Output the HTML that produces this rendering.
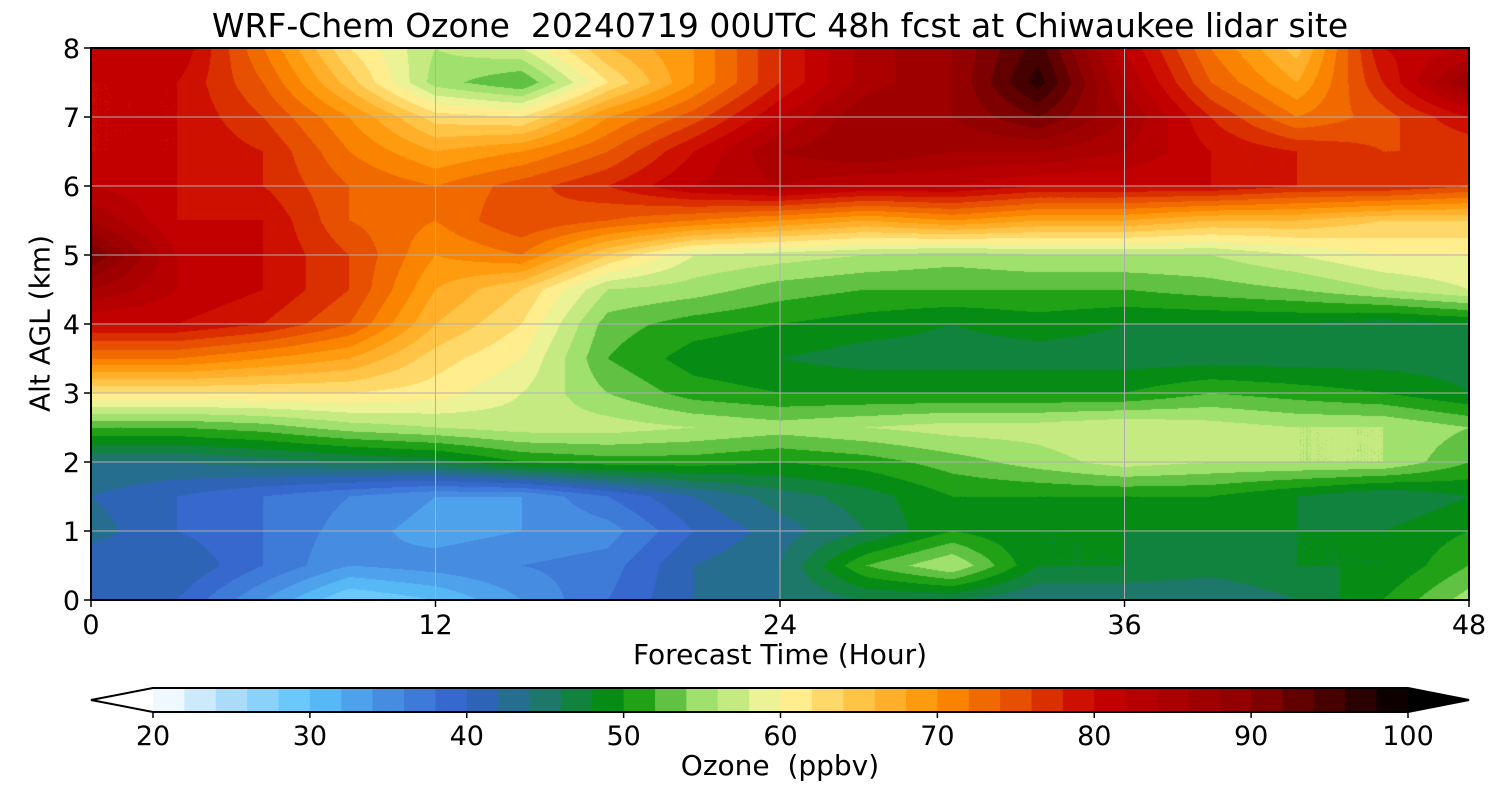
<!DOCTYPE html>
<html><head><meta charset="utf-8">
<style>
body{margin:0;background:#fff;}
#wrap{position:relative;width:1500px;height:800px;font-family:"DejaVu Sans","Liberation Sans",sans-serif;color:#000;overflow:hidden;}
.t{position:absolute;white-space:nowrap;}
svg text{font-family:"DejaVu Sans","Liberation Sans",sans-serif;}
</style></head>
<body>
<div id="wrap">
<div class="t" style="left:0;width:1560px;text-align:center;top:6px;font-size:33px;">WRF-Chem Ozone&nbsp; 20240719 00UTC 48h fcst at Chiwaukee lidar site</div>
<canvas id="hm" width="1378" height="552" style="position:absolute;left:91px;top:48px;"></canvas>
<svg id="ov" width="1500" height="800" style="position:absolute;left:0;top:0;"></svg>
<div class="t" style="left:91px;width:1378px;text-align:center;top:638px;font-size:28px;">Forecast Time (Hour)</div>
<div class="t" style="left:-60px;top:307px;width:200px;text-align:center;font-size:28px;transform:rotate(-90deg);">Alt AGL (km)</div>
<div class="t" style="left:91px;width:1378px;text-align:center;top:749px;font-size:28px;">Ozone&nbsp; (ppbv)</div>
</div>
<script>
const times=[0,3,6,9,12,15,18,21,24,27,30,33,36,39,42,45,48];
const alts=[0,0.5,1,1.5,2,2.5,3,3.5,4,4.5,5,5.5,6,6.5,7,7.5,8];
const ozone=[
[40,40,34,28,30,34,38,42,44,46,46,44,44,44,46,50,55],
[40,42,38,34,35,36,37,42,44,52,56,48,48,47,48,48,52],
[43,40,38,35,33,34,35,40,43,46,50,48,48,48,48,48,50],
[42,40,38,36,34,34,38,42,45,47,50,50,50,50,48,46,48],
[44,44,45,46,47,50,51,51,50,51,53,55,57,56,56,56,52],
[52,52,53,55,56,57,57,56,55,56,57,57,58,57,56,56,54],
[62,62,62,62,61,58,54,51,50,50,50,50,50,52,51,50,48],
[72,72,70,68,63,60,52,49,48,47,47,47,47,47,47,47,47],
[80,80,78,74,66,62,53,51,50,49,48,49,48,48,48,47,48],
[86,82,80,76,68,64,56,55,53,52,52,52,52,53,54,56,58],
[92,82,80,76,70,72,64,58,57,56,55,56,56,56,58,60,60],
[86,80,80,74,72,76,74,72,70,68,70,68,68,66,66,64,64],
[82,80,78,74,72,75,78,82,84,82,82,80,80,80,78,78,76],
[80,80,78,72,68,70,74,80,86,88,86,86,84,80,78,76,76],
[80,80,76,70,63,62,70,75,82,88,88,92,86,78,72,75,80],
[80,80,74,65,55,52,62,70,78,85,88,97,84,74,68,78,88],
[80,82,72,62,56,58,66,70,78,85,88,95,82,72,65,80,82]
];
const xTicks=[0,12,24,36,48];
const yTicks=[0,1,2,3,4,5,6,7,8];
const cbTicks=[20,30,40,50,60,70,80,90,100];
const cmapV=[20,25,30,35,40,45,50,55,60,65,70,75,80,90,100];
const cmapC=[[255,255,255],[170,220,250],[90,195,250],[70,140,225],[50,95,200],[30,120,105],[0,145,0],[160,225,110],[255,248,160],[255,195,70],[255,145,0],[230,80,0],[200,0,0],[140,0,0],[0,0,0]];
const X0=91,X1=1469,Y0=600,Y1=48,CB0=153,CB1=1408;
const xs=t=>X0+(t/48)*(X1-X0), ys=a=>Y0-(a/8)*(Y0-Y1), cbx=v=>CB0+(v-20)/80*(CB1-CB0);
function col(v){v=Math.max(20,Math.min(100,v));for(let i=0;i<cmapV.length-1;i++){if(v<=cmapV[i+1]){const f=(v-cmapV[i])/(cmapV[i+1]-cmapV[i]);return cmapC[i].map((c,k)=>Math.round(c+(cmapC[i+1][k]-c)*f));}}return cmapC[cmapC.length-1];}
function q(v){return Math.floor(v/2)*2+1;}
const cv=document.getElementById('hm'),ctx=cv.getContext('2d'),W=cv.width,H=cv.height,img=ctx.createImageData(W,H);
const cache={};
for(let py=0;py<H;py++){const a=(H-py-0.5)/H*8;let j=0;while(j<alts.length-2&&alts[j+1]<a)j++;const fy=(a-alts[j])/(alts[j+1]-alts[j]);
for(let px=0;px<W;px++){const t=(px+0.5)/W*48;let i=0;while(i<times.length-2&&times[i+1]<t)i++;const fx=(t-times[i])/(times[i+1]-times[i]);
const v=ozone[j][i]*(1-fx)*(1-fy)+ozone[j][i+1]*fx*(1-fy)+ozone[j+1][i]*(1-fx)*fy+ozone[j+1][i+1]*fx*fy;
const qv=q(v);const c=cache[qv]||(cache[qv]=col(qv));const o=(py*W+px)*4;img.data[o]=c[0];img.data[o+1]=c[1];img.data[o+2]=c[2];img.data[o+3]=255;}}
ctx.putImageData(img,0,0);
const NS='http://www.w3.org/2000/svg',sv=document.getElementById('ov');
function el(n,at){const e=document.createElementNS(NS,n);for(const k in at)e.setAttribute(k,at[k]);sv.appendChild(e);return e;}
xTicks.forEach(t=>{
const g=el('line',{x1:xs(t),x2:xs(t),y1:Y1,y2:Y0,stroke:'#b0b0b0','stroke-width':1});


el('line',{x1:xs(t),x2:xs(t),y1:Y0,y2:Y0+7,stroke:'#000','stroke-width':1.5});
const tx=el('text',{x:xs(t),y:Y0+34,'text-anchor':'middle','font-size':27});tx.textContent=t;


});
yTicks.forEach(a=>{
const g=el('line',{x1:X0,x2:X1,y1:ys(a),y2:ys(a),stroke:'#b0b0b0','stroke-width':1});


el('line',{x1:X0-7,x2:X0,y1:ys(a),y2:ys(a),stroke:'#000','stroke-width':1.5});
const tx=el('text',{x:X0-11,y:ys(a)+10,'text-anchor':'end','font-size':27});tx.textContent=a;


});
el('rect',{x:X0,y:Y1,width:X1-X0,height:Y0-Y1,fill:'none',stroke:'#000','stroke-width':2});
const cy0=688,cy1=712;
for(let v=20;v<100;v+=2){const c=col(v+1);
const r=el('rect',{x:cbx(v),y:cy0,width:cbx(v+2)-cbx(v)+0.6,height:cy1-cy0,fill:`rgb(${c})`});

}
const lt=el('polygon',{points:`${CB0},${cy0} ${X0},${(cy0+cy1)/2} ${CB0},${cy1}`,fill:'#fff'});


const rt=el('polygon',{points:`${CB1},${cy0} ${X1},${(cy0+cy1)/2} ${CB1},${cy1}`,fill:'#000'});


el('polygon',{points:`${CB0},${cy0} ${X0},${(cy0+cy1)/2} ${CB0},${cy1} ${CB1},${cy1} ${X1},${(cy0+cy1)/2} ${CB1},${cy0}`,fill:'none',stroke:'#000','stroke-width':2});
cbTicks.forEach(v=>{
el('line',{x1:cbx(v),x2:cbx(v),y1:cy1,y2:cy1+6,stroke:'#000','stroke-width':1.5});
const tx=el('text',{x:cbx(v),y:cy1+33,'text-anchor':'middle','font-size':27});tx.textContent=v;


});
</script>
</body></html>
